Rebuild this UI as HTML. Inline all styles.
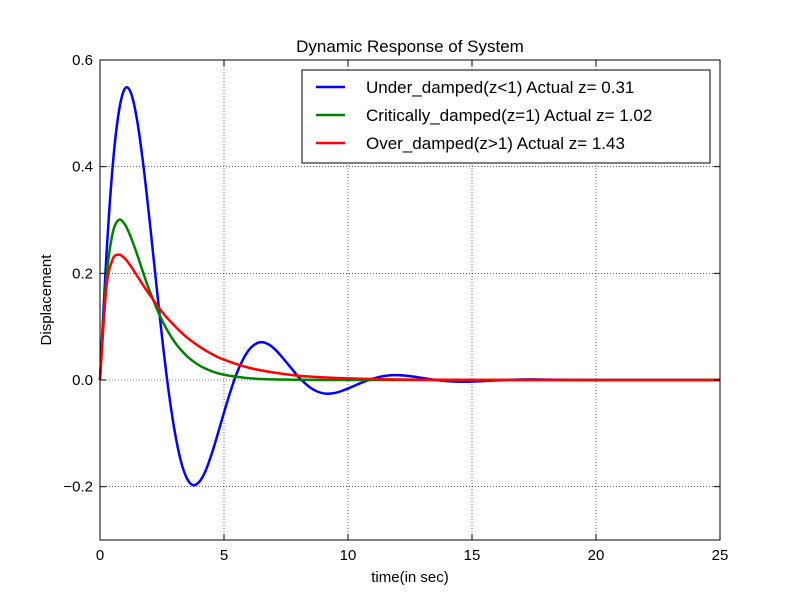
<!DOCTYPE html>
<html><head><meta charset="utf-8"><style>
html,body{margin:0;padding:0;background:#fff;}
svg text{font-family:"Liberation Sans",Arial,sans-serif;fill:#000;}
</style></head><body>
<svg id="chart" width="800" height="600" viewBox="0 0 800 600" xmlns="http://www.w3.org/2000/svg">
<rect width="800" height="600" fill="#fff"/>
<g id="grid"></g>
<g id="series"></g>
<rect x="100" y="60" width="620" height="480" fill="none" stroke="#000" stroke-width="1"/>
<g id="ticks"></g>
<text x="410" y="52" font-size="17" text-anchor="middle">Dynamic Response of System</text>
<text x="410" y="582" font-size="15" text-anchor="middle">time(in sec)</text>
<text x="51" y="300" font-size="15" text-anchor="middle" transform="rotate(-90 51 300)">Displacement</text>
<g>
<rect x="302" y="70" width="408" height="93" fill="#fff" stroke="#000" stroke-width="1"/>
<line x1="316" y1="87" x2="345" y2="87" stroke="#0000ff" stroke-width="2.5"/>
<text x="366" y="93" font-size="17">Under_damped(z&lt;1) Actual z= 0.31</text>
<line x1="316" y1="115" x2="345" y2="115" stroke="#008000" stroke-width="2.5"/>
<text x="366" y="121" font-size="17">Critically_damped(z=1) Actual z= 1.02</text>
<line x1="316" y1="143" x2="345" y2="143" stroke="#ff0000" stroke-width="2.5"/>
<text x="366" y="149" font-size="17">Over_damped(z&gt;1) Actual z= 1.43</text>
</g>
</svg>
<script>
const xTicks=[0,5,10,15,20,25];
const xTickLabels=["0","5","10","15","20","25"];
const yTicks=[-0.2,0.0,0.2,0.4,0.6];
const yTickLabels=["\u22120.2","0.0","0.2","0.4","0.6"];
const underT=[0,0.25,0.5,0.75,1,1.25,1.5,1.75,2,2.25,2.5,2.75,3,3.25,3.5,3.75,4,4.25,4.5,4.75,5,5.25,5.5,5.75,6,6.25,6.5,6.75,7,7.25,7.5,7.75,8,8.5,9,9.5,10,10.5,11,11.5,12,12.5,13,13.5,14,14.5,15,16,17,18,19,20,25];
const underY=[0,0.226,0.395,0.5,0.546,0.538,0.486,0.402,0.299,0.189,0.081,-0.015,-0.093,-0.15,-0.184,-0.197,-0.191,-0.171,-0.139,-0.101,-0.061,-0.023,0.011,0.037,0.056,0.067,0.071,0.068,0.06,0.048,0.034,0.02,0.006,-0.015,-0.025,-0.024,-0.016,-0.006,0.0025,0.0078,0.0091,0.0072,0.0037,0.0002,-0.0022,-0.0032,-0.003,-0.0008,0.001,0.0008,0,0,0];
const critT=[0,0.25,0.5,0.75,1,1.25,1.5,1.75,2,2.5,3,3.5,4,4.5,5,6,7,8,9,10,25];
const critY=[0,0.187,0.273,0.3,0.292,0.267,0.235,0.2,0.167,0.112,0.072,0.045,0.0275,0.0165,0.0098,0.0034,0.0011,0.0004,0.0001,0,0];
const overT=[0,0.25,0.5,0.75,1,1.25,1.5,1.75,2,2.5,3,3.5,4,4.5,5,6,7,8,9,10,12,15,25];
const overY=[0,0.17,0.225,0.235,0.228,0.213,0.195,0.177,0.16,0.128,0.102,0.08,0.063,0.049,0.038,0.023,0.014,0.008,0.005,0.003,0.001,0.0003,0];
const NS="http://www.w3.org/2000/svg";
function sx(v){return 100+(v-0)/25*620;}
function sy(v){return 540-(v+0.3)/0.9*480;}
function mk(tag,attrs,parent){const e=document.createElementNS(NS,tag);for(const k in attrs)e.setAttribute(k,attrs[k]);parent.appendChild(e);return e;}
const grid=document.getElementById('grid'),ticks=document.getElementById('ticks'),series=document.getElementById('series');
xTicks.forEach((v,i)=>{
 const x=sx(v);
 if(i>0&&i<xTicks.length-1){const g=mk('line',{x1:x,y1:60,x2:x,y2:540,stroke:'#000','stroke-width':0.6,'stroke-dasharray':'1,2'},grid);
 
 }
 const t1=mk('line',{x1:x,y1:540,x2:x,y2:534,stroke:'#000'},ticks);
 
 
 const t2=mk('line',{x1:x,y1:60,x2:x,y2:66,stroke:'#000'},ticks);
 
 
 const l=mk('text',{x:x,y:560,'font-size':15,'text-anchor':'middle'},ticks);
 l.textContent=xTickLabels[i];
 
 
});
yTicks.forEach((v,i)=>{
 const y=sy(v);
 if(v<0.59){const g=mk('line',{x1:100,y1:y,x2:720,y2:y,stroke:'#000','stroke-width':0.6,'stroke-dasharray':'1,2'},grid);
 
 }
 const t1=mk('line',{x1:100,y1:y,x2:106,y2:y,stroke:'#000'},ticks);
 
 
 const t2=mk('line',{x1:720,y1:y,x2:714,y2:y,stroke:'#000'},ticks);
 
 
 const l=mk('text',{x:93,y:y+5,'font-size':15,'text-anchor':'end'},ticks);
 l.textContent=yTickLabels[i];
 
 
});
function pathFor(T,Y){
 const p=T.map((t,i)=>[sx(t),sy(Y[i])]);
 let d='M'+p[0][0]+','+p[0][1];
 for(let i=0;i<p.length-1;i++){
  const p0=p[i-1]||p[i],p1=p[i],p2=p[i+1],p3=p[i+2]||p[i+1];
  const c1=[p1[0]+(p2[0]-p0[0])/6,p1[1]+(p2[1]-p0[1])/6];
  const c2=[p2[0]-(p3[0]-p1[0])/6,p2[1]-(p3[1]-p1[1])/6];
  d+=' C'+c1[0]+','+c1[1]+' '+c2[0]+','+c2[1]+' '+p2[0]+','+p2[1];
 }
 return d;
}
const u=mk('path',{d:pathFor(underT,underY),fill:'none',stroke:'#0000ff','stroke-width':2.5},series);


const c=mk('path',{d:pathFor(critT,critY),fill:'none',stroke:'#008000','stroke-width':2.5},series);


const o=mk('path',{d:pathFor(overT,overY),fill:'none',stroke:'#ff0000','stroke-width':2.5},series);


</script>
</body></html>
